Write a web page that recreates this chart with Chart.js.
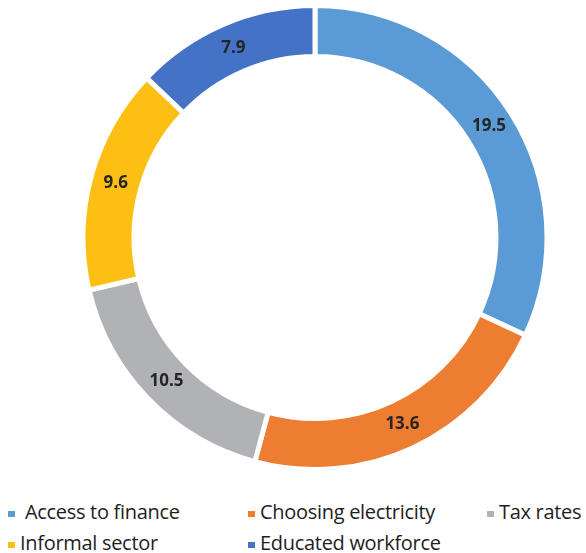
<!DOCTYPE html>
<html>
<head>
<meta charset="utf-8">
<script src="https://cdn.jsdelivr.net/npm/chart.js@4/dist/chart.umd.min.js"></script>
<style>
  body { margin: 0; background: #fff; font-family: "Open Sans", Lato, sans-serif; }
  #wrap { position: relative; width: 586px; height: 476px; }
  #legend { position: absolute; left: 0; top: 500px; width: 586px; }
  .item { position: absolute; font-size: 20px; color: #1e1e1e; white-space: pre; line-height: 24px; letter-spacing: -0.3px; }
  .item span.box { display: inline-block; width: 7px; height: 6px; margin-right: 5px; vertical-align: middle; position: relative; top: 0px; }
</style>
</head>
<body>
<div id="wrap"><canvas id="miGrafico"></canvas></div>
<div id="legend"></div>
<script>
const labels = [' Access to finance', 'Choosing electricity', 'Tax rates', 'Informal sector', 'Educated workforce'];
const valores = [19.5, 13.6, 10.5, 9.6, 7.9];
const colores = ['#5B9BD5', '#ED7D31', '#B1B2B6', '#FDBF14', '#4472C4'];

// posiciones de la leyenda (columna, fila)
const legendPos = [[8, 0], [248, 0], [487, 0], [8, 31], [248, 31]];

const etiquetas = {
  id: 'etiquetas',
  afterDatasetsDraw(chart) {
    const ctx = chart.ctx;
    const meta = chart.getDatasetMeta(0);
    ctx.save();
    ctx.font = 'bold 17px "Open Sans", Lato, sans-serif';
    ctx.fillStyle = '#262626';
    ctx.textAlign = 'center';
    ctx.textBaseline = 'middle';
    meta.data.forEach((arc, i) => {
      const p = arc.tooltipPosition();
      ctx.fillText(valores[i].toFixed(1), p.x, p.y);
    });
    ctx.restore();
  }
};

document.addEventListener('DOMContentLoaded', () => {
  const canvas = document.getElementById('miGrafico');
  new Chart(canvas.getContext('2d'), {
    type: 'doughnut',
    data: {
      labels: labels,
      datasets: [{
        data: valores,
        backgroundColor: colores,
        borderColor: '#ffffff',
        borderWidth: 5
      }]
    },
    options: {
      responsive: true,
      maintainAspectRatio: false,
      animation: false,
      cutout: '78%',
      layout: { padding: { left: 44, top: 3, bottom: 4 } },
      plugins: { legend: { display: false }, tooltip: { enabled: false } }
    },
    plugins: [etiquetas]
  });

  const legend = document.getElementById('legend');
  labels.forEach((l, i) => {
    const d = document.createElement('div');
    d.className = 'item';
    d.style.left = legendPos[i][0] + 'px';
    d.style.top = legendPos[i][1] + 'px';
    d.innerHTML = '<span class="box" style="background:' + colores[i] + '"></span>' + l;
    legend.appendChild(d);
  });
});
</script>
</body>
</html>
